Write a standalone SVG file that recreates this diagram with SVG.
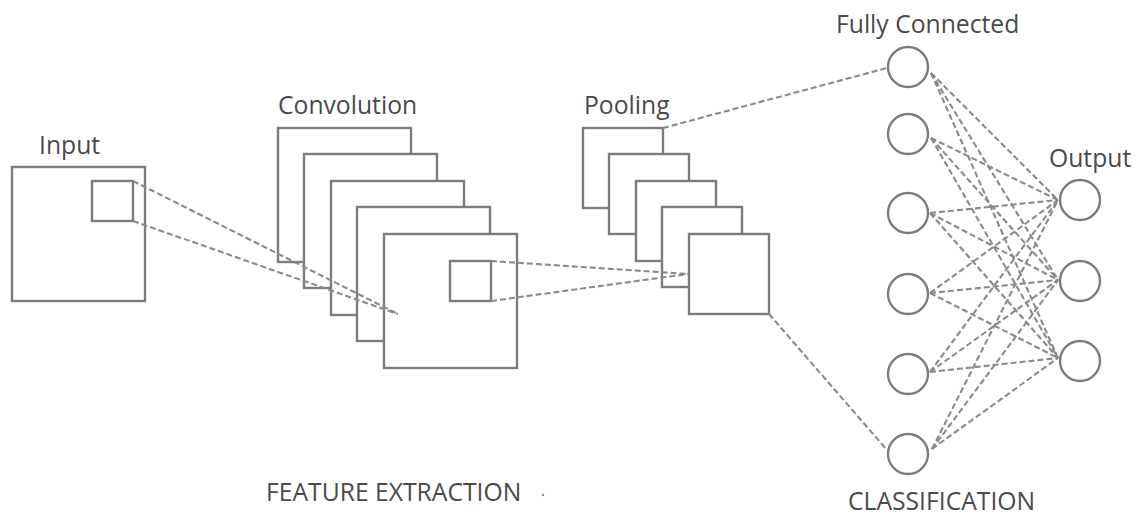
<svg xmlns="http://www.w3.org/2000/svg" width="1140" height="518" viewBox="0 0 1140 518">
  <style>
    .box { fill: #ffffff; stroke: #7c7c7c; stroke-width: 2.4; }
    .node { fill: #ffffff; stroke: #7c7c7c; stroke-width: 2.4; }
    .link { fill: none; stroke: #8a8a8a; stroke-width: 2.1; stroke-dasharray: 6 3; }
    .label { font-family: "Open Sans", "Noto Sans", sans-serif; font-size: 24.7px; fill: #4a4a4a; }
  </style>
  <rect width="1140" height="518" fill="#ffffff"/>

  <!-- Input layer -->
  <g id="input">
    <text class="label" x="39" y="154">Input</text>
    <rect class="box" x="12" y="167" width="133" height="134"/>
    <rect class="box" x="92" y="181" width="41" height="40"/>
  </g>

  <!-- Convolution feature maps -->
  <g id="convolution">
    <text class="label" x="278" y="114">Convolution</text>
    <rect class="box" x="278" y="128" width="133" height="134"/>
    <rect class="box" x="304" y="154" width="133" height="134"/>
    <rect class="box" x="331" y="181" width="133" height="134"/>
    <rect class="box" x="357" y="207" width="133" height="134"/>
    <rect class="box" x="384" y="234" width="133" height="134"/>
    <rect class="box" x="450" y="261" width="41" height="40"/>
  </g>

  <!-- Pooling maps -->
  <g id="pooling">
    <text class="label" x="584" y="114">Pooling</text>
    <rect class="box" x="583" y="128" width="80" height="80"/>
    <rect class="box" x="609" y="154" width="80" height="80"/>
    <rect class="box" x="636" y="181" width="80" height="80"/>
    <rect class="box" x="662" y="207" width="80" height="80"/>
    <rect class="box" x="689" y="234" width="80" height="80"/>
  </g>

  <!-- Fully connected layer -->
  <g id="fully-connected">
    <text class="label" x="836" y="33">Fully Connected</text>
    <circle class="node" cx="908" cy="67" r="20"/>
    <circle class="node" cx="908" cy="134" r="20"/>
    <circle class="node" cx="908" cy="213" r="20"/>
    <circle class="node" cx="908" cy="294" r="20"/>
    <circle class="node" cx="908" cy="374" r="20"/>
    <circle class="node" cx="908" cy="454" r="20"/>
  </g>

  <!-- Output layer -->
  <g id="output">
    <text class="label" x="1049" y="167">Output</text>
    <circle class="node" cx="1080" cy="200" r="20"/>
    <circle class="node" cx="1080" cy="281" r="20"/>
    <circle class="node" cx="1080" cy="361" r="20"/>
  </g>

  <!-- Section captions -->
  <g id="captions">
    <text class="label" x="266" y="501">FEATURE EXTRACTION</text>
    <circle cx="543" cy="495" r="1.2" fill="#8c8c8c"/>
    <text class="label" x="848" y="510">CLASSIFICATION</text>
  </g>

  <!-- Connectors -->
  <g id="connectors" class="link">
    <line x1="133" y1="181" x2="398" y2="314"/>
    <line x1="133" y1="221" x2="398" y2="314"/>
    <line x1="491" y1="261" x2="688" y2="274"/>
    <line x1="491" y1="301" x2="688" y2="274"/>
    <line x1="663" y1="128" x2="887" y2="68"/>
    <line x1="769" y1="314" x2="887" y2="450"/>

    <line x1="931" y1="73" x2="1058" y2="200"/>
    <line x1="931" y1="73" x2="1058" y2="280"/>
    <line x1="931" y1="73" x2="1058" y2="358"/>
    <line x1="931" y1="138" x2="1058" y2="200"/>
    <line x1="931" y1="138" x2="1058" y2="280"/>
    <line x1="931" y1="138" x2="1058" y2="358"/>
    <line x1="930" y1="213" x2="1058" y2="200"/>
    <line x1="930" y1="213" x2="1058" y2="280"/>
    <line x1="930" y1="213" x2="1058" y2="358"/>
    <line x1="930" y1="293" x2="1058" y2="200"/>
    <line x1="930" y1="293" x2="1058" y2="280"/>
    <line x1="930" y1="293" x2="1058" y2="358"/>
    <line x1="930" y1="372" x2="1058" y2="200"/>
    <line x1="930" y1="372" x2="1058" y2="280"/>
    <line x1="930" y1="372" x2="1058" y2="358"/>
    <line x1="932" y1="449" x2="1058" y2="200"/>
    <line x1="932" y1="449" x2="1058" y2="280"/>
    <line x1="932" y1="449" x2="1058" y2="358"/>
  </g>
</svg>
